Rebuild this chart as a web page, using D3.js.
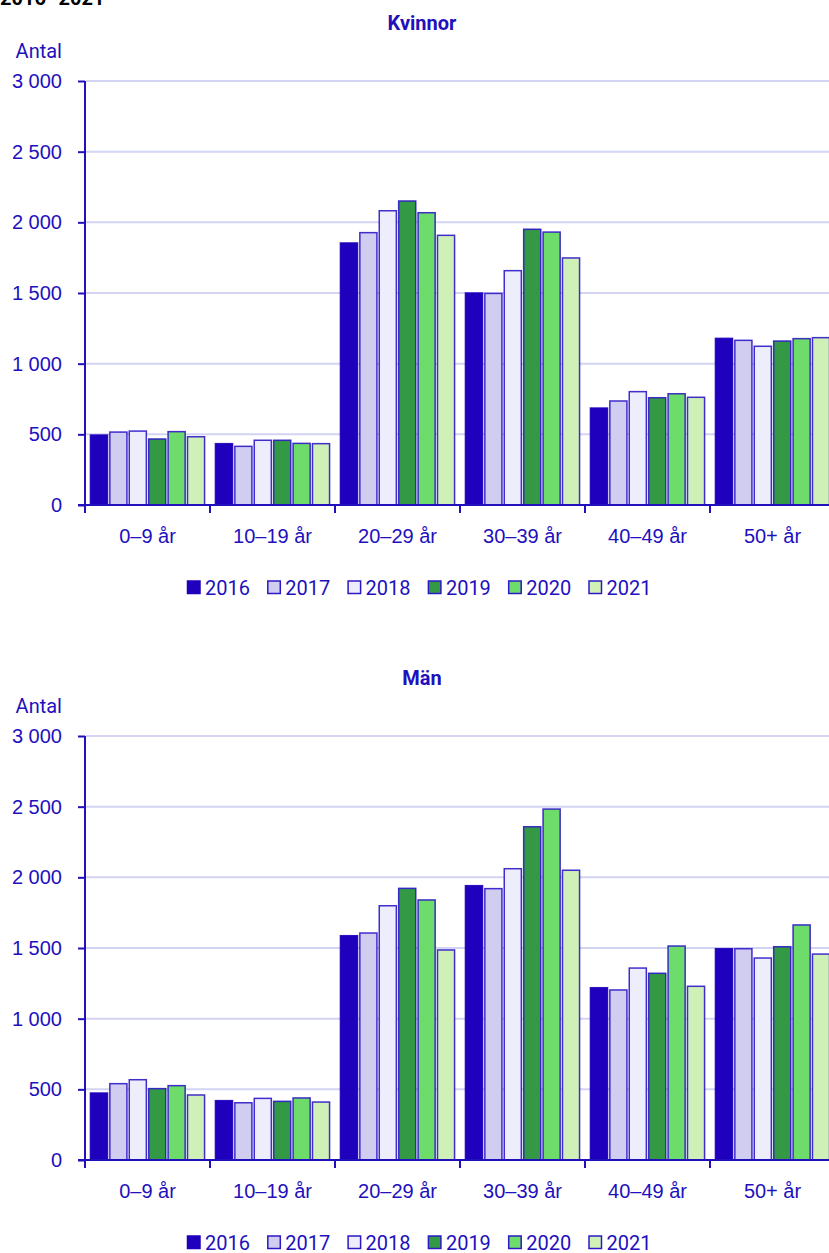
<!DOCTYPE html>
<meta charset="utf-8">
<style>
  body { margin: 0; background: #fff; }
  svg { display: block; font-family: Roboto, "Noto Sans", sans-serif; }
  .tick text { fill: #2210bd; font-size: 20px; }
</style>
<script src="https://d3js.org/d3.v7.min.js"></script>
<body>
<svg id="chart" width="829" height="1253"></svg>
<script>
  // data
  var categories = ["0–9 år", "10–19 år", "20–29 år", "30–39 år", "40–49 år", "50+ år"];
  var years = ["2016", "2017", "2018", "2019", "2020", "2021"];
  var yTicks = [0, 500, 1000, 1500, 2000, 2500, 3000];

  // one row per age group, one value per year
  var kvinnor = [
    [495, 516, 523, 467, 519, 483],
    [434, 415, 458, 458, 436, 434],
    [1854, 1927, 2082, 2151, 2068, 1908],
    [1500, 1497, 1658, 1951, 1931, 1748],
    [686, 736, 802, 759, 787, 762],
    [1179, 1165, 1123, 1160, 1177, 1184]
  ];
  var man = [
    [474, 540, 568, 505, 526, 460],
    [420, 405, 436, 415, 439, 410],
    [1587, 1606, 1799, 1922, 1840, 1486],
    [1941, 1920, 2061, 2358, 2483, 2050],
    [1219, 1203, 1358, 1321, 1514, 1229],
    [1495, 1495, 1429, 1509, 1663, 1457]
  ];

  var ink = "#2210bd";
  var colors = ["#1f00bd", "#d1cdf1", "#ededfc", "#339944", "#6edc6a", "#cff1b8"];

  var svg = d3.select("#chart");

  // clipped super title at the very top
  svg.append("text").attr("x", 0).attr("y", 5)
    .style("font-size", "20px").style("font-weight", "bold").style("fill", "#000")
    .text("2016–2021");

  var nf = d3.formatLocale({decimal: ",", thousands: " ", grouping: [3]}).format(",d");

  var x = d3.scaleBand().domain(categories).range([85, 835]);
  var xSub = d3.scaleBand().domain(years).range([0, x.bandwidth()])
    .paddingInner(0.12).paddingOuter(0.28);
  var color = d3.scaleOrdinal().domain(years).range(colors);

  function drawChart(top, title, values) {
    var g = svg.append("g").attr("transform", "translate(0," + top + ")");
    var y = d3.scaleLinear().domain([0, 3000]).range([505, 81]);

    g.append("text").attr("x", 422).attr("y", 30).attr("text-anchor", "middle")
      .style("font-size", "20px").style("font-weight", "bold").style("fill", ink)
      .text(title);

    g.append("text").attr("x", 62).attr("y", 58).attr("text-anchor", "end")
      .style("font-size", "20px").style("fill", ink).text("Antal");

    // grid
    g.selectAll(".grid").data(yTicks.filter(d => d > 0)).join("line")
      .attr("x1", 86).attr("x2", 835)
      .attr("y1", d => y(d)).attr("y2", d => y(d))
      .attr("stroke", "#d3d3f3").attr("stroke-width", 2);

    // bars
    var groups = g.selectAll(".grp").data(values).join("g")
      .attr("transform", (d, i) => "translate(" + x(categories[i]) + ",0)");
    groups.selectAll("rect").data(d => d.map((v, j) => ({year: years[j], value: v}))).join("rect")
      .attr("x", d => xSub(d.year))
      .attr("width", xSub.bandwidth())
      .attr("y", d => y(d.value))
      .attr("height", d => y(0) - y(d.value))
      .attr("fill", d => color(d.year))
      .attr("stroke", d => d.year === "2016" ? color(d.year) : "#2c18c6")
      .attr("stroke-width", 1.5)
      .attr("stroke-opacity", 0.9);

    // y axis
    var yAxis = g.append("g").attr("transform", "translate(85,0)")
      .call(d3.axisLeft(y).tickValues(yTicks).tickFormat(nf).tickSize(7).tickPadding(16));
    yAxis.select(".domain").attr("stroke", ink).attr("stroke-width", 2)
      .attr("d", "M0," + y(3000) + "V" + y(0));
    yAxis.selectAll(".tick line").attr("stroke", ink).attr("stroke-width", 2);

    // x axis
    var xAxis = g.append("g").attr("transform", "translate(0," + y(0) + ")")
      .call(d3.axisBottom(x).tickSize(0).tickPadding(38));
    xAxis.select(".domain").attr("stroke", ink).attr("stroke-width", 2)
      .attr("d", "M78,0H835");
    xAxis.selectAll(".tick text").attr("dy", "0");
    var bounds = categories.map(c => x(c)).concat([x.range()[1]]);
    xAxis.selectAll(".sep").data(bounds).join("line")
      .attr("x1", d => d).attr("x2", d => d).attr("y1", 0).attr("y2", 8)
      .attr("stroke", ink).attr("stroke-width", 2);

    // legend
    var leg = g.selectAll(".leg").data(years).join("g")
      .attr("transform", (d, i) => "translate(" + (187.5 + i * 80.3) + ",581)");
    leg.append("rect").attr("width", 12.5).attr("height", 12.5)
      .attr("fill", d => color(d))
      .attr("stroke", d => d === "2016" ? color(d) : "#2c18c6").attr("stroke-width", 1.5);
    leg.append("text").attr("x", 17.5).attr("y", 14)
      .style("font-size", "20px").style("fill", ink).text(d => d);
  }

  drawChart(0, "Kvinnor", kvinnor);
  drawChart(655, "Män", man);
</script>
</body>
